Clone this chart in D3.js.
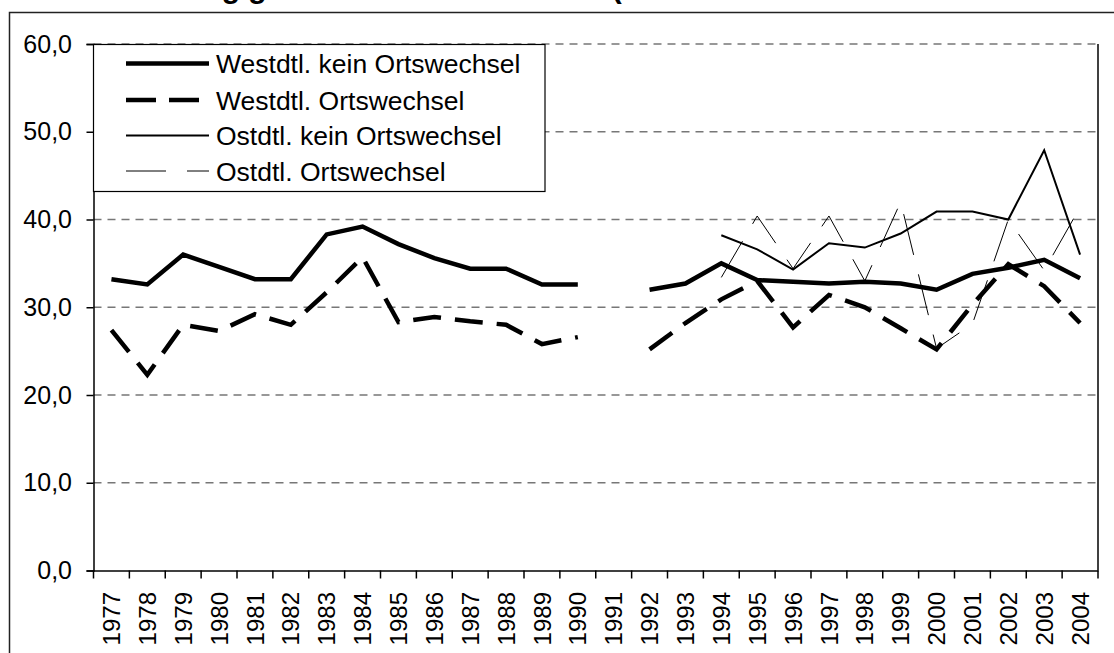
<!DOCTYPE html>
<html>
<head>
<meta charset="utf-8">
<script src="https://cdn.jsdelivr.net/npm/d3@7"></script>
<style>
  html, body { margin: 0; padding: 0; background: #fff; }
  svg { display: block; font-family: "Liberation Sans", Arial, sans-serif; }
</style>
</head>
<body>
<svg id="chart" width="1114" height="653"></svg>
<script>
// ---- data ----
const years = ["1977","1978","1979","1980","1981","1982","1983","1984","1985","1986","1987","1988","1989","1990","1991","1992","1993","1994","1995","1996","1997","1998","1999","2000","2001","2002","2003","2004"];
const westKein = [33.2,32.6,36.0,34.6,33.2,33.2,38.3,39.2,37.2,35.6,34.4,34.4,32.6,32.6,null,32.0,32.7,35.0,33.1,32.9,32.7,32.9,32.7,32.0,33.8,34.5,35.4,33.3];
const westOrt = [27.4,22.3,28.0,27.3,29.2,28.0,31.7,35.7,28.3,28.9,28.4,28.0,25.8,26.6,null,25.2,28.2,30.9,33.0,27.7,31.4,30.0,27.6,25.2,30.3,34.9,32.4,28.2];
const ostKein = [null,null,null,null,null,null,null,null,null,null,null,null,null,null,null,null,null,38.2,36.6,34.3,37.3,36.8,38.4,40.9,40.9,40.0,47.9,36.0];
const ostOrt = [null,null,null,null,null,null,null,null,null,null,null,null,null,null,null,null,null,33.4,40.4,34.4,40.4,33.0,42.0,25.3,28.1,40.0,34.2,41.4];
const seriesNames = ["Westdtl. kein Ortswechsel","Westdtl. Ortswechsel","Ostdtl. kein Ortswechsel","Ostdtl. Ortswechsel"];
const yTicks = [0,10,20,30,40,50,60];
const titleText = "Lohnabhängige ohne/mit Ortswechsel (Anteile in Prozent für West- und Ostdeutschland)";

(function () {
const series = [
  {name: seriesNames[0], values: westKein, width: 4.5, dash: null},
  {name: seriesNames[1], values: westOrt, width: 4.5, dash: "28,14"},
  {name: seriesNames[2], values: ostKein, width: 2, dash: null},
  {name: seriesNames[3], values: ostOrt, width: 1, dash: "42,20"}
];

const svg = d3.select("#chart");
const pL = 93.5, pR = 1098, pT = 44, pB = 570.5;
const FONT = "'Liberation Sans', Arial, sans-serif";

const x = d3.scaleBand().domain(years).range([pL, pR]).padding(0);
const y = d3.scaleLinear().domain([0, 60]).range([pB, pT]);
const cx = d => x(d) + x.bandwidth() / 2;

// outer chart frame
svg.append("rect").attr("x", 9.5).attr("y", 12.5).attr("width", 1200).attr("height", 700)
  .attr("fill", "none").attr("stroke", "#222").attr("stroke-width", 1.5);

// title (mostly cut off at the top)
svg.append("text").attr("x", 60).attr("y", -2)
  .style("font-weight", "bold").style("font-size", "30px").style("font-family", FONT)
  .attr("fill", "#000").text(titleText);

// gridlines
svg.append("g").selectAll("line").data(yTicks.filter(d => d > 0)).join("line")
  .attr("x1", pL).attr("x2", pR).attr("y1", d => y(d)).attr("y2", d => y(d))
  .attr("stroke", "#777").attr("stroke-width", 1.5).attr("stroke-dasharray", "8,6");

// right border of plot area
svg.append("line").attr("x1", pR).attr("x2", pR).attr("y1", pT).attr("y2", pB)
  .attr("stroke", "#000").attr("stroke-width", 1.5);

// y axis
const yAxis = svg.append("g").attr("transform", `translate(${pL},0)`)
  .call(d3.axisLeft(y).tickValues(yTicks).tickSize(7).tickPadding(14.5)
    .tickFormat(d => d3.format(".1f")(d).replace(".", ",")));
yAxis.selectAll("path, line").attr("stroke", "#000").attr("stroke-width", 1.5);
yAxis.selectAll("text").style("font-size", "25px").style("font-family", FONT).attr("fill", "#000");

// x axis labels
const xAxis = svg.append("g").attr("transform", `translate(0,${pB})`)
  .call(d3.axisBottom(x).tickSize(0).tickSizeOuter(0));
xAxis.select("path").attr("stroke", "#000").attr("stroke-width", 1.5);
xAxis.selectAll("text").style("font-size", "24px").style("font-family", FONT).attr("fill", "#000")
  .attr("transform", "rotate(-90)").attr("x", -21.5).attr("y", 0).attr("dy", "0.36em")
  .style("text-anchor", "end");
// boundary ticks
const bounds = years.map(d => x(d)).concat([x(years[years.length - 1]) + x.bandwidth()]);
svg.append("g").selectAll("line").data(bounds).join("line")
  .attr("x1", d => d).attr("x2", d => d).attr("y1", pB).attr("y2", pB + 8)
  .attr("stroke", "#000").attr("stroke-width", 1.5);

// lines
const lineGen = d3.line().defined(d => d.v != null).x(d => cx(d.year)).y(d => y(d.v));
[3, 2, 1, 0].forEach(i => {
  const s = series[i];
  const pts = years.map((yr, k) => ({year: yr, v: s.values[k]}));
  svg.append("path").datum(pts).attr("d", lineGen)
    .attr("fill", "none").attr("stroke", "#000").attr("stroke-width", s.width)
    .attr("stroke-dasharray", s.dash).attr("stroke-linejoin", "miter");
});

// legend
const lg = svg.append("g");
lg.append("rect").attr("x", pL).attr("y", 44.5).attr("width", 451.5).attr("height", 147)
  .attr("fill", "#fff").attr("stroke", "#000").attr("stroke-width", 1.2);
const legY = [63.5, 100, 135.5, 171];
series.forEach((s, i) => {
  lg.append("line").attr("x1", 126).attr("x2", 209).attr("y1", legY[i]).attr("y2", legY[i])
    .attr("stroke", "#000").attr("stroke-width", s.width)
    .attr("stroke-dasharray", i === 1 ? "30,13" : (i === 3 ? "40,21" : null));
  lg.append("text").attr("x", 216).attr("y", legY[i]).attr("dy", "0.36em")
    .style("font-size", "26.5px").style("font-family", FONT).attr("fill", "#000").text(s.name);
});
})();
</script>
</body>
</html>
